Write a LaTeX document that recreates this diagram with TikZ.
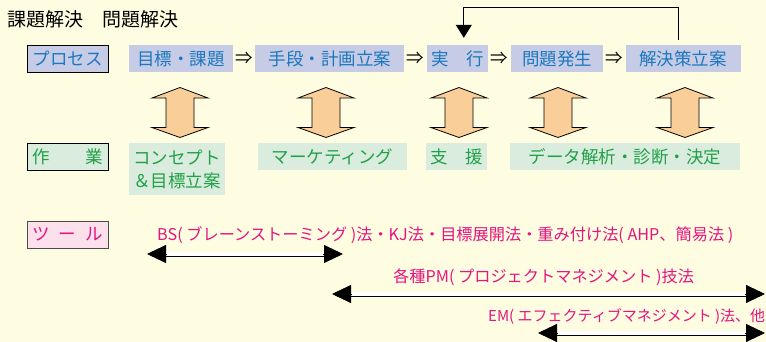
\documentclass[tikz,border=0pt]{standalone}
\usepackage{fontspec}
\setmainfont{Noto Sans CJK JP}
\usetikzlibrary{arrows.meta, positioning, calc}
\definecolor{bgcolor}{RGB}{255,253,225}
\definecolor{proccolor}{RGB}{198,203,230}
\definecolor{proctext}{RGB}{28,120,190}
\definecolor{workcolor}{RGB}{217,236,221}
\definecolor{worktext}{RGB}{34,160,72}
\definecolor{toolcolor}{RGB}{252,224,236}
\definecolor{tooltext}{RGB}{228,20,128}
\definecolor{arrowcolor}{RGB}{249,206,152}
\newcommand{\boxfont}{\fontsize{17.5pt}{23pt}\selectfont}
\newcommand{\toolfont}{\fontsize{16.2pt}{20pt}\selectfont}
\newcommand{\lblspread}[1]{\hbox to 70pt{#1}}

\begin{document}
\begin{tikzpicture}[x=1pt, y=-1pt,
  proc/.style={fill=proccolor, text=proctext, font=\boxfont, minimum height=27pt, inner sep=0pt},
  work/.style={fill=workcolor, text=worktext, font=\boxfont, minimum height=27pt, inner sep=0pt},
  lbl/.style={draw, line width=0.9pt, minimum width=81pt, minimum height=27pt, inner sep=0pt, font=\boxfont},
  tool/.style={text=tooltext, font=\toolfont, inner sep=0pt, anchor=west},
  imp/.style={font=\boxfont, inner sep=0pt},
  dline/.style={double, double distance=3.2pt, line width=0.9pt},
  tiphead/.style={line width=0.9pt, -{Triangle[length=19pt,width=18pt]}}]
\fill[bgcolor] (0,0) rectangle (766,342);
\useasboundingbox (0,0) rectangle (766,342);

\node[anchor=west, font=\fontsize{19pt}{22pt}\selectfont, inner sep=0pt] (title) at (7,19) {課題解決　問題解決};

% process row
\node[lbl, fill=proccolor, text=proctext] (proclbl) at (67.5,58.5) {プロセス};
\node[proc, minimum width=104pt] (goal) at (181,58.5) {目標・課題};
\node[proc, minimum width=149pt, right=22pt of goal] (plan) {手段・計画立案};
\node[proc, minimum width=61pt, right=22pt of plan] (exec) {実　行};
\node[proc, minimum width=92pt, right=23pt of exec] (issue) {問題発生};
\node[proc, minimum width=115pt, right=22pt of issue] (solve) {解決策立案};
\foreach \a/\b in {goal/plan, plan/exec, exec/issue, issue/solve}
  \node[imp] (imp-\a) at ($(\a.east)!0.5!(\b.west)$) {⇒};
\draw[line width=0.9pt, -{Triangle[length=13pt,width=16pt]}, shorten <=5pt, shorten >=7pt]
  ([xshift=-4.5pt]solve.north) -- ++(0,-37) -| ([xshift=6.5pt]exec.north);

% double arrows between rows
\foreach \cx in {180,326,459,558,685}
  \draw[fill=arrowcolor, line width=0.8pt] (\cx,87.5) -- ++(28,10.5) -- ++(-14,0) -- ++(0,29.5)
    -- ++(14,0) -- (\cx,137.5) -- ++(-28,-10) -- ++(14,0) -- ++(0,-29.5) -- ++(-14,0) -- cycle;

% work row
\node[lbl, fill=workcolor, text=worktext] (worklbl) at (67.5,156.5) {\lblspread{作\hfill 業}};
\node[work, minimum width=96pt, minimum height=52pt, align=center] (concept) at (177,169) {コンセプト\\＆目標立案};
\node[work, minimum width=149pt] (market) at (332.5,156.5) {マーケティング};
\node[work, minimum width=61pt] (support) at (456.5,156.5) {支　援};
\node[work, minimum width=230pt] (analysis) at (625,156.5) {データ解析・診断・決定};

% tools
\node[lbl, fill=toolcolor, text=tooltext, draw=black!70] (toollbl) at (67.5,234.5) {\lblspread{ツ\hfill ー\hfill ル}};
\node[tool] (bs) at (157,235) {BS( ブレーンストーミング )法・KJ法・目標展開法・重み付け法( AHP、簡易法 )};
\node[tool] (pm) at (393,277) {各種PM( プロジェクトマネジメント )技法};
\node[tool, font=\fontsize{15pt}{19pt}\selectfont] (em) at (488,317) {EM( エフェクティブマネジメント )法、他};
\coordinate (bsL) at (147,254); \coordinate (bsR) at (343,254);
\coordinate (pmL) at (332,294); \coordinate (pmR) at (765,294);
\coordinate (emL) at (538,333); \coordinate (emR) at (765,333);
\foreach \a/\b in {bsL/bsR, pmL/pmR, emL/emR} {
  \draw[dline, shorten <=17pt, shorten >=17pt] (\a) -- (\b);
  \draw[tiphead] ($(\a)!20pt!(\b)$) -- (\a);
  \draw[tiphead] ($(\b)!20pt!(\a)$) -- (\b);
}
\end{tikzpicture}
\end{document}
